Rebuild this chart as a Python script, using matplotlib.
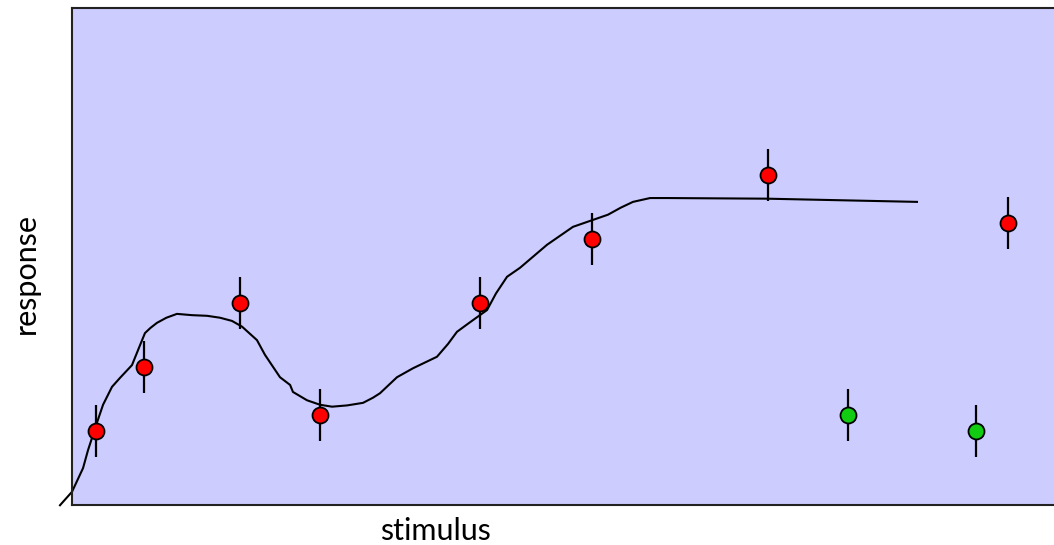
import matplotlib.pyplot as plt

# measured points (stimulus, response), error = +/- 0.4
red_x = [6, 9, 15, 20, 30, 37, 48, 63]
red_y = [1.0, 2.0, 3.0, 1.25, 3.0, 4.0, 5.0, 4.25]
green_x = [53, 61]
green_y = [1.25, 1.0]
err = 0.4

# model curve
curve_x = [3.75, 4.5, 5.19, 5.5, 6.06, 6.44, 7.0, 7.5, 8.25, 8.75, 9.06, 9.4, 9.81,
           10.4, 11.06, 12.0, 12.94, 13.75, 14.5, 15.13, 16.06, 16.56, 17.5, 18.13,
           18.31, 19.19, 20.0, 20.75, 21.7, 22.69, 23.31, 23.75, 24.81, 25.81, 27.31,
           28.0, 28.56, 29.38, 30.44, 31.0, 31.69, 32.5, 34.19, 35.81, 38.0, 38.8,
           39.56, 40.63, 41.69, 47.94, 57.31]
curve_y = [-0.16, 0.05, 0.42, 0.70, 1.13, 1.41, 1.69, 1.83, 2.03, 2.34, 2.53, 2.61, 2.69,
           2.77, 2.83, 2.81, 2.80, 2.77, 2.72, 2.63, 2.42, 2.19, 1.84, 1.72,
           1.61, 1.48, 1.41, 1.38, 1.40, 1.44, 1.52, 1.59, 1.84, 1.98, 2.16,
           2.36, 2.55, 2.70, 2.89, 3.15, 3.41, 3.55, 3.91, 4.19, 4.38, 4.49,
           4.58, 4.64, 4.64, 4.63, 4.58]

W, H = 1054, 545
fig = plt.figure(figsize=(W / 100, H / 100), dpi=100)
plt.rcParams['font.family'] = ['Lato', 'DejaVu Sans']
ax = fig.add_axes([72 / W, 1 - 505 / H, (1062 - 72) / W, (505 - 8) / H])
ax.set_facecolor('#CCCCFF')

ax.plot(curve_x, curve_y, color='black', lw=1.5, clip_on=False, zorder=2,
        solid_joinstyle='round')
ax.errorbar(red_x, red_y, yerr=err, fmt='o', color='black', ecolor='black',
            elinewidth=1.6, capsize=0, mfc='#FF0000', mec='black', mew=1.3,
            ms=11.5, zorder=3)
ax.errorbar(green_x, green_y, yerr=err, fmt='o', color='black', ecolor='black',
            elinewidth=1.6, capsize=0, mfc='#11CC11', mec='black', mew=1.3,
            ms=11.5, zorder=3)

ax.set_xlim(4.5, 4.5 + (1062 - 72) / 16)
ax.set_ylim(-10 / 64, 487 / 64)
ax.set_xticks([])
ax.set_yticks([])
for s in ['left', 'bottom', 'top']:
    ax.spines[s].set_linewidth(1.5)
    ax.spines[s].set_color('#222222')
ax.spines['right'].set_visible(False)

ax.set_xlabel('stimulus', fontsize=22)
ax.xaxis.set_label_coords((435 - 72) / (1062 - 72), -0.025, transform=ax.transAxes)
ax.xaxis.label.set_va('top')
ax.set_ylabel('response', fontsize=22)
ax.yaxis.set_label_coords(-(72 - 26) / (1062 - 72), (505 - 274) / (505 - 8), transform=ax.transAxes)
ax.yaxis.label.set_va('center')

plt.savefig('out.png', dpi=100)
